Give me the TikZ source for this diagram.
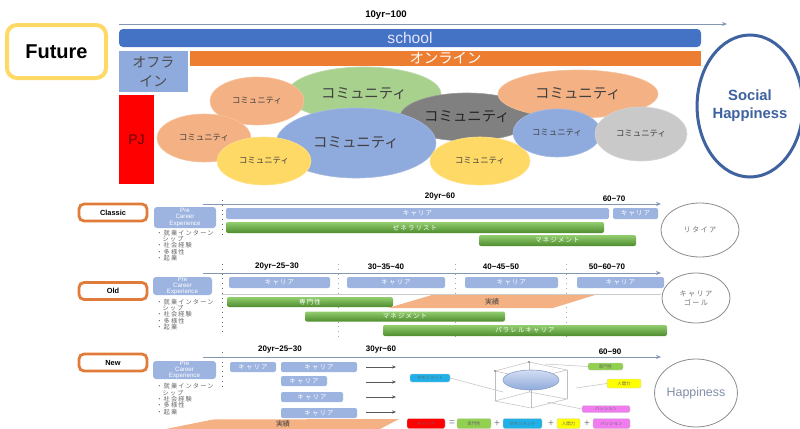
\documentclass[tikz,border=0pt]{standalone}
\usepackage{fontspec}
\setmainfont{Liberation Sans}
\newfontfamily\jp{Noto Sans CJK JP}
\newfontfamily\jpwide[LetterSpace=18]{Noto Sans CJK JP}
\usetikzlibrary{shapes.geometric,arrows.meta}

\definecolor{futureyellow}{HTML}{FFD966}
\definecolor{schoolblue}{HTML}{4472C4}
\definecolor{offblue}{HTML}{8FAADC}
\definecolor{barblue}{HTML}{9DB4E0}
\definecolor{onorange}{HTML}{ED7D31}
\definecolor{labelorange}{HTML}{E07B39}
\definecolor{salmon}{HTML}{F4B183}
\definecolor{commgreen}{HTML}{A9D18E}
\definecolor{commyellow}{HTML}{FFD966}
\definecolor{commgrey}{HTML}{808080}
\definecolor{commlight}{HTML}{C9C9C9}
\definecolor{happyblue}{HTML}{3F62A0}
\definecolor{lineblue}{HTML}{8497B0}
\definecolor{greentop}{HTML}{93CE6E}
\definecolor{greenbot}{HTML}{4E8C2F}
\definecolor{tagcyan}{HTML}{1FB0E8}
\definecolor{taggreen}{HTML}{92D050}
\definecolor{tagyellow}{HTML}{FFFF00}
\definecolor{tagmagenta}{HTML}{F07CF0}

\tikzset{
  sectbox/.style={draw=labelorange, line width=1.4pt, rounded corners=2.5pt, fill=white,
    minimum width=34pt, minimum height=8.5pt, inner sep=0pt, font=\bfseries\fontsize{3.7}{4}\selectfont},
  precareer/.style={fill=barblue, rounded corners=1.5pt, inner sep=0pt, text=white, align=center,
    font=\fontsize{3.1}{3.1}\selectfont},
  bullets/.style={anchor=north west, inner sep=0pt, align=left, text=black!60,
    font=\jpwide\fontsize{3.1}{3.2}\selectfont},
  tline/.style={draw=lineblue, line width=0.4pt, -{Stealth[length=2.5pt,width=2pt]}},
  yrs/.style={inner sep=0pt, font=\bfseries\fontsize{4}{4}\selectfont},
  bluebar/.style={fill=barblue, rounded corners=1pt, inner sep=0pt, minimum height=5.5pt,
    text=white, font=\jpwide\fontsize{3.2}{3.2}\selectfont},
  greenbar/.style={top color=greentop, bottom color=greenbot, rounded corners=1pt, inner sep=0pt,
    minimum height=5.5pt, text=white, font=\jpwide\fontsize{3.2}{3.2}\selectfont},
  comm/.style={ellipse, inner sep=0pt, line width=0.3pt, text=black!75,
    font=\jp\fontsize{4.2}{4.2}\selectfont},
  bigcomm/.style={comm, font=\jp\fontsize{7.2}{7.2}\selectfont},
  goal/.style={ellipse, draw=black!45, line width=0.4pt, fill=white, inner sep=0pt, align=center,
    text=black!55, font=\jpwide\fontsize{3.6}{4.4}\selectfont},
  tag/.style={rounded corners=1pt, inner sep=0pt, draw=black!20, line width=0.2pt,
    text=black!60, font=\jp\fontsize{2.2}{2.2}\selectfont},
  sign/.style={inner sep=0pt, text=black!50, font=\fontsize{5}{5}\selectfont},
  wire/.style={draw=black!25, line width=0.25pt},
}

\begin{document}
\begin{tikzpicture}[x=0.5pt,y=-0.5pt]
\fill[white] (0,0) rectangle (800,429);
\useasboundingbox (0,0) rectangle (800,429);
% Future
\node[draw=futureyellow, line width=2pt, rounded corners=5pt, minimum width=49.5pt, minimum height=26.5pt,
  font=\bfseries\fontsize{10}{10}\selectfont] (future) at (56.5,51.5) {Future};
% time line top
\coordinate (t0) at (119,24);
\coordinate (t1) at (727,24);
\draw[tline, line width=0.5pt] (t0) -- (t1);
\node[yrs, font=\bfseries\fontsize{4.8}{4.8}\selectfont] (span) at (386,15) {10yr−100};
% school / offline / online / PJ
\node[fill=schoolblue, rounded corners=2pt, minimum width=291pt, minimum height=9pt, inner sep=0pt,
  text=white!90!blue, font=\fontsize{7.8}{7.8}\selectfont] (school) at (410,38) {school};
\node[fill=offblue, minimum width=34.5pt, minimum height=20.5pt, inner sep=0pt, align=center,
  text=black!70, font=\jp\fontsize{7}{9.5}\selectfont] (offline) at (153.5,71.5) {オフラ\\イン};
\node[fill=onorange, minimum width=255.5pt, minimum height=7.5pt, inner sep=0pt,
  text=white, font=\jp\fontsize{7.2}{7.2}\selectfont] (online) at (445.5,58.5) {オンライン};
\node[fill=red, minimum width=17.5pt, minimum height=44.5pt, inner sep=0pt,
  text=red!40!black, font=\fontsize{7}{7}\selectfont] (pj) at (136.5,139.5) {PJ};
% communities
\node[bigcomm, fill=commgreen, draw=commgreen!80!white, minimum width=77pt, minimum height=27pt] (cgreen) at (364,94) {コミュニティ};
\node[comm, fill=salmon, draw=salmon!80!white, minimum width=47pt, minimum height=24pt] (csalm1) at (257,101) {コミュニティ};
\node[comm, fill=salmon, draw=salmon!80!white, minimum width=47pt, minimum height=24pt] (csalm2) at (204,138) {コミュニティ};
\node[bigcomm, fill=commgrey, draw=commgrey!80!white, text=black!85, minimum width=67pt, minimum height=24pt] (cgrey) at (467,117) {コミュニティ};
\node[bigcomm, fill=offblue, draw=offblue!80!white, minimum width=80pt, minimum height=35pt] (cblue) at (356,143) {コミュニティ};
\node[comm, fill=commyellow, draw=commyellow!80!white, minimum width=47pt, minimum height=24pt] (cyel1) at (264,161) {コミュニティ};
\node[comm, fill=commyellow, draw=commyellow!80!white, minimum width=50pt, minimum height=24pt] (cyel2) at (480,161) {コミュニティ};
\node[bigcomm, fill=salmon, draw=salmon!80!white, minimum width=80pt, minimum height=24pt] (csalm3) at (578,94) {コミュニティ};
\node[comm, fill=offblue, draw=offblue!80!white, minimum width=44pt, minimum height=24pt] (cblue2) at (557,133) {コミュニティ};
\node[comm, fill=commlight, draw=commlight!80!white, minimum width=46pt, minimum height=27pt] (clight) at (641,134) {コミュニティ};
% Social Happiness
\node[ellipse, draw=happyblue, line width=1.5pt, minimum width=46pt, minimum height=71pt, inner sep=0pt,
  align=center, text=happyblue, font=\bfseries\fontsize{7.4}{9}\selectfont] (social) at (750,106) {Social\\Happiness};

%Classic
\node[sectbox] (classic) at (113,212.5) {Classic};
\node[precareer, minimum width=31pt, minimum height=10.5pt] (pre1) at (185,217.5) {Pre\\Career\\Experience};
\node[bullets] (bul1) at (156,229.5) {・就業インターン\\\phantom{・}シップ\\・社会経験\\・多様性\\・起業};
\draw[dotted, black!60, line width=0.4pt] (222,200) -- (222,235);
\coordinate (a0) at (203,204);
\coordinate (a1) at (661,204);
\draw[tline] (a0) -- (a1);
\node[yrs] (y1a) at (440,197) {20yr−60};
\node[yrs] (y1b) at (614,199) {60−70};
\node[bluebar, minimum width=191.5pt] (k1a) at (417.5,213.5) {キャリア};
\node[bluebar, minimum width=22.5pt] (k1b) at (635.5,213.5) {キャリア};
\node[greenbar, minimum width=189pt] (gen) at (415,227.5) {ゼネラリスト};
\node[greenbar, minimum width=78.5pt] (man1) at (557.5,240.5) {マネジメント};
\node[goal, minimum width=39pt, minimum height=27pt] (retire) at (700,230) {リタイア};

%Old
\node[sectbox] (old) at (113,291) {Old};
\node[precareer, minimum width=29.5pt, minimum height=9pt] (pre2) at (182.5,286) {Pre\\Career\\Experience};
\node[bullets] (bul2) at (156,298.5) {・就業インターン\\\phantom{・}シップ\\・社会経験\\・多様性\\・起業};
\draw[dotted, black!60, line width=0.4pt] (222,264) -- (222,334);
\foreach \x in {338,455,566}
  \draw[dotted, black!35, line width=0.4pt] (\x,264) -- (\x,338);
\coordinate (b0) at (203,273);
\coordinate (b1) at (661,273);
\draw[tline] (b0) -- (b1);
\node[yrs] (y2a) at (277,267) {20yr−25−30};
\node[yrs] (y2b) at (386,267) {30−35−40};
\node[yrs] (y2c) at (501,267) {40−45−50};
\node[yrs] (y2d) at (607,267) {50−60−70};
\node[bluebar, minimum width=50.5pt] (k2a) at (279.5,282.5) {キャリア};
\node[bluebar, minimum width=49pt] (k2b) at (396,282.5) {キャリア};
\node[bluebar, minimum width=46.5pt] (k2c) at (511.5,282.5) {キャリア};
\node[bluebar, minimum width=43.5pt] (k2d) at (620.5,282.5) {キャリア};
\draw[black!20, line width=0.5pt] (222,294) -- (661,294);
\fill[salmon] (388,308) -- (432,295) -- (595,295) -- (553,308) -- cycle;
\node[inner sep=0pt, text=black!75, font=\jp\fontsize{3.5}{3.5}\selectfont] (res1) at (492,301.5) {実績};
\node[greenbar, minimum width=83pt, minimum height=5pt] (spec) at (310,302) {専門性};
\node[greenbar, minimum width=100pt, minimum height=5pt] (man2) at (405,316.5) {マネジメント};
\node[greenbar, minimum width=142pt] (para) at (525,330.5) {パラレルキャリア};
\node[goal, minimum width=34pt, minimum height=25pt] (cgoal) at (696,298) {キャリア\\ゴール};

%New
\node[sectbox] (new) at (113,362.5) {New};
\node[precareer, minimum width=31.5pt, minimum height=9pt] (pre3) at (184.5,370) {Pre\\Career\\Experience};
\node[bullets] (bul3) at (156,383) {・就業インターン\\\phantom{・}シップ\\・社会経験\\・多様性\\・起業};
\draw[dotted, black!60, line width=0.4pt] (222,352) -- (222,390);
\coordinate (c0) at (203,357);
\coordinate (c1) at (661,357);
\draw[tline] (c0) -- (c1);
\node[yrs] (y3a) at (280,350) {20yr−25−30};
\node[yrs] (y3b) at (381,350) {30yr−60};
\node[yrs] (y3c) at (610,352) {60−90};
\node[bluebar, minimum width=23pt, minimum height=5pt] (k3a) at (253,367) {キャリア};
\node[bluebar, minimum width=38pt, minimum height=5pt] (k3b) at (319,367) {キャリア};
\node[bluebar, minimum width=23pt, minimum height=5pt] (k3c) at (304,381) {キャリア};
\node[bluebar, minimum width=31pt, minimum height=5pt] (k3d) at (312,397) {キャリア};
\node[bluebar, minimum width=38pt, minimum height=5pt] (k3e) at (319,413) {キャリア};
\foreach \k/\y in {1/367,2/382,3/397,4/412}{
  \coordinate (s\k) at (366,\y);
  \coordinate (e\k) at (396,\y);
  \draw[black!65, line width=0.3pt, -{Stealth[length=2pt,width=1.6pt]}] (s\k) -- (e\k);
}
\fill[salmon] (166,429) -- (213,419.5) -- (399,419) -- (380,429) -- cycle;
\node[inner sep=0pt, text=black!75, font=\jp\fontsize{3.5}{3.5}\selectfont] (res2) at (283,424) {実績};
% 3D figure
\coordinate (tb) at (529,362); \coordinate (tl) at (495,371);
\coordinate (tr) at (567,370); \coordinate (tf) at (531,379);
\coordinate (bb) at (529,392); \coordinate (bl) at (495,401);
\coordinate (br) at (567,399); \coordinate (bf) at (531,408);
\draw[wire] (tb) -- (tl) -- (tf) -- (tr) -- cycle;
\draw[wire] (bb) -- (bl) -- (bf) -- (br) -- cycle;
\foreach \p in {b,l,r,f}
  \draw[wire] (t\p) -- (b\p);
\fill[black!45] (tb) circle (1.2) (tl) circle (1.2);
\node[ellipse, top color=offblue!40!white, bottom color=offblue, draw=happyblue!60, line width=0.3pt,
  minimum width=28pt, minimum height=10pt, inner sep=0pt] (disk) at (531,380) {};
\node[tag, fill=tagcyan, minimum width=20pt, minimum height=4pt] (q2) at (430,378) {マネジメント};
\node[tag, fill=taggreen, minimum width=17.5pt, minimum height=3.5pt] (q1) at (605.5,366.5) {専門性};
\node[tag, fill=tagyellow, minimum width=17pt, minimum height=4.5pt] (q3) at (624,383.5) {人間力};
\node[tag, fill=tagmagenta, minimum width=24pt, minimum height=3.5pt] (q4) at (606,409) {パッション};
\coordinate (l2) at (503,392);
\coordinate (l1) at (545,364);
\coordinate (l3) at (576,388);
\coordinate (l4) at (547,402);
\draw[wire] (q2.east) -- (l2);
\draw[wire] (q1.west) -- (l1);
\draw[wire] (q3.west) -- (l3);
\draw[wire] (q4.west) -- (l4);
% formula
\node[tag, fill=red, minimum width=19pt, minimum height=5pt] (f0) at (426,423.5) {キャリア};
\node[sign] (eq) at (452,423.5) {=};
\node[tag, fill=taggreen, minimum width=17pt, minimum height=5pt] (f1) at (474,423.5) {専門性};
\node[sign] (p1) at (497,423.5) {+};
\node[tag, fill=tagcyan, minimum width=19.5pt, minimum height=5pt] (f2) at (522.5,423.5) {マネジメント};
\node[sign] (p2) at (551,423.5) {+};
\node[tag, fill=tagyellow, minimum width=11.5pt, minimum height=5pt] (f3) at (568.5,423.5) {人間力};
\node[sign] (p3) at (587,423.5) {+};
\node[tag, fill=tagmagenta, minimum width=18.5pt, minimum height=5pt] (f4) at (611.5,423.5) {パッション};
% Happiness
\node[goal, minimum width=34pt, minimum height=34pt, text=happyblue!70!black!60,
  font=\fontsize{6.2}{6.2}\selectfont] (happy) at (696,393) {Happiness};
\end{tikzpicture}
\end{document}
